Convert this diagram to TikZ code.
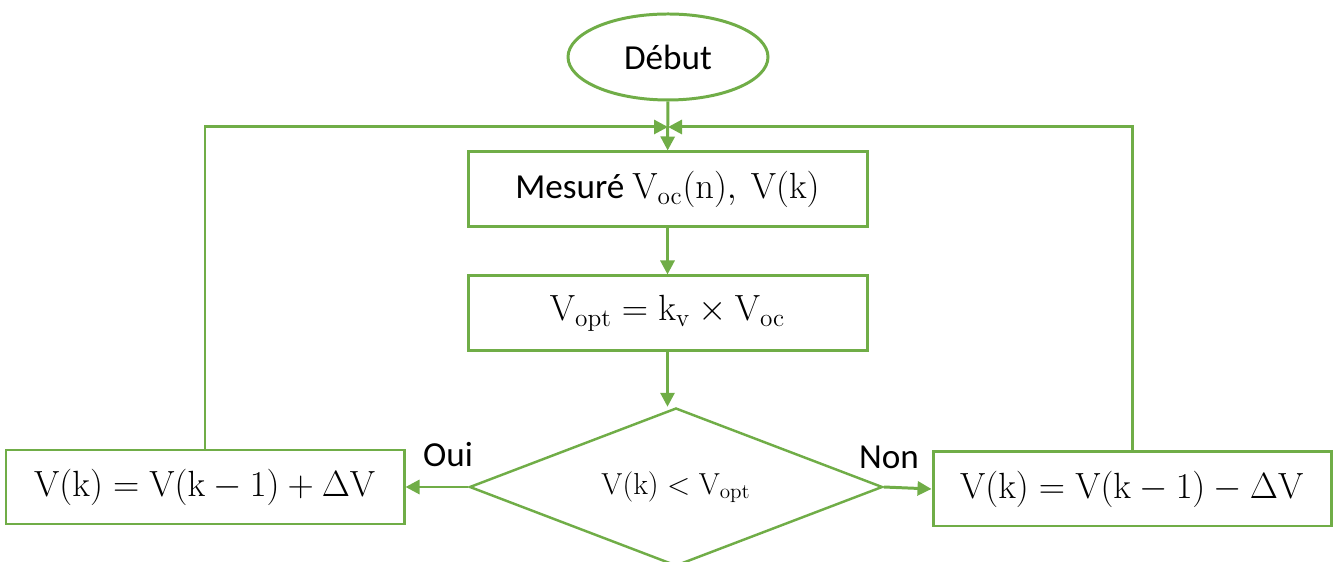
\documentclass[tikz,border=0pt]{standalone}
\usepackage[no-math]{fontspec}
\setmainfont{Carlito}
\usepackage{tikz}
\usetikzlibrary{positioning}
\usetikzlibrary{arrows.meta}
\usetikzlibrary{shapes.geometric}
\usetikzlibrary{calc}

\definecolor{fgreen}{RGB}{112,173,71}

\begin{document}
\begin{tikzpicture}[
    font=\fontsize{20}{24}\selectfont,
    start/.style={
        ellipse,
        draw=fgreen,
        line width=1.7pt,
        fill=white,
        inner sep=0pt,
        minimum width=4.0cm,
        minimum height=1.72cm
    },
    box/.style={
        draw=fgreen,
        line width=1.7pt,
        fill=white,
        minimum width=7.98cm,
        minimum height=1.5cm,
        align=center
    },
    sidebox/.style={
        draw=fgreen,
        line width=1.7pt,
        fill=white,
        minimum width=7.96cm,
        minimum height=1.48cm,
        font=\fontsize{22}{26}\selectfont
    },
    test/.style={
        diamond,
        shape aspect=2.6,
        draw=fgreen,
        line width=1.4pt,
        fill=white,
        inner sep=0pt,
        minimum width=8.26cm,
        minimum height=3.16cm,
        font=\fontsize{18}{22}\selectfont
    },
    conn/.style={
        draw=fgreen,
        line width=1.7pt,
        -{Triangle[length=0.28cm,width=0.28cm]}
    }
]

\clip (0,0) rectangle (26.74,11.24);
\useasboundingbox (0,0) rectangle (26.74,11.24);

% --- Start
\node[start] (debut) at (13.36,10.10) {Début};

% --- Main column
\node[box] (mesure) at (13.35,7.45) {Mesuré $\mathrm{V_{oc}(n),\ V(k)}$};
\node[box,font=\fontsize{21}{25}\selectfont] (calcul) at (13.35,4.97) {$\mathrm{V_{opt}=k_v\times V_{oc}}$};

% --- Decision
\node[test] (decision) at (13.52,1.50) {$\mathrm{V(k)<V_{opt}}$};

% --- Left / Right
\node[sidebox] (augm) at (4.10,1.50) {$\mathrm{V(k)=V(k-1)+\Delta V}$};
\node[sidebox] (dimin) at (22.64,1.46) {$\mathrm{V(k)=V(k-1)-\Delta V}$};

% --- Merge point
\coordinate (merge) at (13.36,8.70);

% --- Labels
\node (oui) at (8.96,2.14) {Oui};
\node (non) at (17.78,2.10) {Non};

% --- Connections
\draw[conn] (debut) -- (mesure);
\draw[conn] (mesure) -- (calcul);
\draw[conn] (calcul) -- (calcul |- decision.north);
\draw[conn] (decision.west) -- (augm.east);
\draw[conn] (decision.east) -- (dimin.west);
\draw[conn] (augm.north) |- (merge);
\draw[conn] (dimin.north) |- (merge);

\end{tikzpicture}
\end{document}
